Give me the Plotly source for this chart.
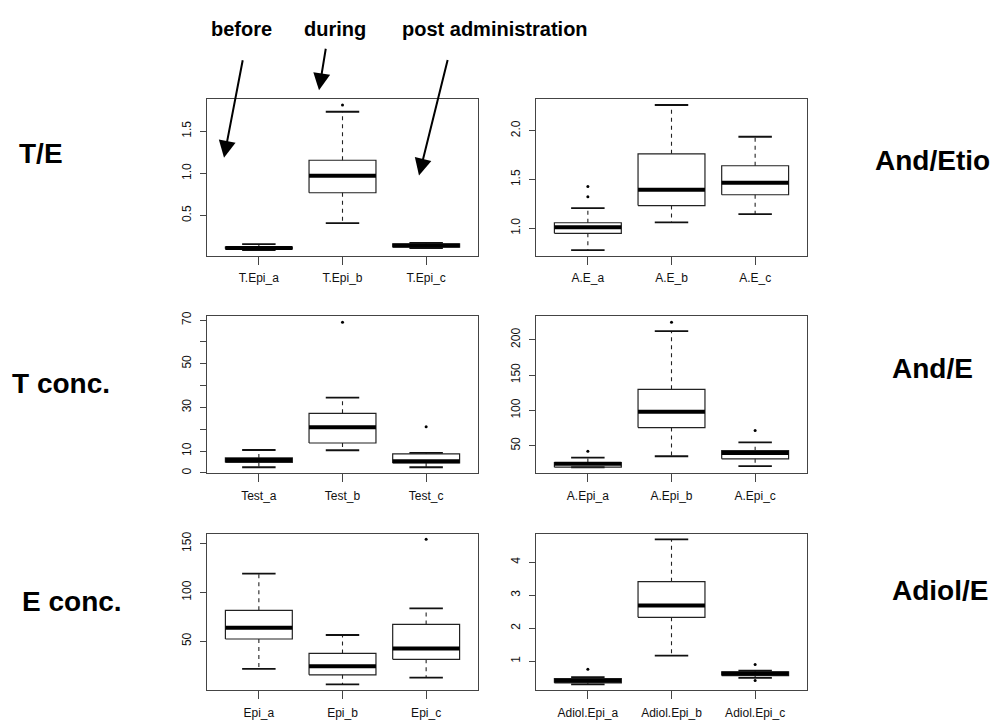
import plotly.graph_objects as go
from plotly.subplots import make_subplots

# ---------------- data ----------------
te_names = ["T.Epi_a", "T.Epi_b", "T.Epi_c"]
te_low = [0.09, 0.41, 0.115]
te_q1 = [0.105, 0.77, 0.125]
te_med = [0.115, 0.97, 0.145]
te_q3 = [0.125, 1.155, 0.165]
te_high = [0.16, 1.73, 0.175]
te_out = [[], [1.81], []]

ae_names = ["A.E_a", "A.E_b", "A.E_c"]
ae_low = [0.777, 1.061, 1.145]
ae_q1 = [0.949, 1.233, 1.344]
ae_med = [1.01, 1.395, 1.466]
ae_q3 = [1.057, 1.763, 1.641]
ae_high = [1.206, 2.263, 1.938]
ae_out = [[1.324, 1.428], [], []]

t_names = ["Test_a", "Test_b", "Test_c"]
t_low = [2.6, 10.4, 2.6]
t_q1 = [4.8, 13.7, 4.6]
t_med = [5.9, 20.9, 5.3]
t_q3 = [6.9, 27.3, 8.7]
t_high = [10.5, 34.5, 9.2]
t_out = [[], [69.0], [21.1]]

ane_names = ["A.Epi_a", "A.Epi_b", "A.Epi_c"]
ane_low = [19.5, 35.1, 21.1]
ane_q1 = [19.7, 75.6, 31.4]
ane_med = [24.4, 97.9, 39.8]
ane_q3 = [26.2, 129.7, 43.0]
ane_high = [33.2, 212.0, 54.6]
ane_out = [[42.0], [224.7], [71.4]]

e_names = ["Epi_a", "Epi_b", "Epi_c"]
e_low = [21.6, 5.7, 12.8]
e_q1 = [52.3, 15.6, 31.5]
e_med = [63.9, 24.4, 42.6]
e_q3 = [81.7, 37.5, 67.2]
e_high = [119.2, 56.4, 83.7]
e_out = [[], [], [154.4]]

ad_names = ["Adiol.Epi_a", "Adiol.Epi_b", "Adiol.Epi_c"]
ad_low = [0.30, 1.17, 0.50]
ad_q1 = [0.35, 2.33, 0.57]
ad_med = [0.41, 2.69, 0.63]
ad_q3 = [0.48, 3.41, 0.68]
ad_high = [0.52, 4.69, 0.72]
ad_out = [[0.76], [], [0.90, 0.42]]

te_ticks = [0.5, 1.0, 1.5]
te_ticktext = ["0.5", "1.0", "1.5"]
ae_ticks = [1.0, 1.5, 2.0]
ae_ticktext = ["1.0", "1.5", "2.0"]
t_ticks = [0, 10, 20, 30, 40, 50, 60, 70]
t_ticktext = ["0", "10", "", "30", "", "50", "", "70"]
ane_ticks = [50, 100, 150, 200]
ane_ticktext = ["50", "100", "150", "200"]
e_ticks = [50, 100, 150]
e_ticktext = ["50", "100", "150"]
ad_ticks = [1, 2, 3, 4]
ad_ticktext = ["1", "2", "3", "4"]

row_labels_left = ["T/E", "T conc.", "E conc."]
row_labels_right = ["And/Etio", "And/E", "Adiol/E"]
phase_labels = ["before", "during", "post administration"]

panels = [
    (1, 1, te_names, te_low, te_q1, te_med, te_q3, te_high, te_out, te_ticks, te_ticktext),
    (1, 2, ae_names, ae_low, ae_q1, ae_med, ae_q3, ae_high, ae_out, ae_ticks, ae_ticktext),
    (2, 1, t_names, t_low, t_q1, t_med, t_q3, t_high, t_out, t_ticks, t_ticktext),
    (2, 2, ane_names, ane_low, ane_q1, ane_med, ane_q3, ane_high, ane_out, ane_ticks, ane_ticktext),
    (3, 1, e_names, e_low, e_q1, e_med, e_q3, e_high, e_out, e_ticks, e_ticktext),
    (3, 2, ad_names, ad_low, ad_q1, ad_med, ad_q3, ad_high, ad_out, ad_ticks, ad_ticktext),
]

W, H = 994, 722
FONT = "Liberation Sans, Arial, Helvetica, sans-serif"
BOXW = 0.4   # half box width (R boxwex 0.8)
CAPW = 0.2   # half staple width

fig = make_subplots(rows=3, cols=2)

col_px = {1: (207, 478), 2: (536, 807)}
row_px = {1: (95, 253), 2: (314, 472), 3: (533, 691)}

for (r, c, names, low, q1, med, q3, high, outs, ticks, ticktext) in panels:
    xs = [1, 2, 3]
    bx, by, wx, wy, cx, cy, mx, my, ox, oy = [], [], [], [], [], [], [], [], [], []
    for i, x in enumerate(xs):
        bx += [x - BOXW, x + BOXW, x + BOXW, x - BOXW, x - BOXW, None]
        by += [q1[i], q1[i], q3[i], q3[i], q1[i], None]
        wx += [x, x, None, x, x, None]
        wy += [q3[i], high[i], None, q1[i], low[i], None]
        cx += [x - CAPW, x + CAPW, None, x - CAPW, x + CAPW, None]
        cy += [high[i], high[i], None, low[i], low[i], None]
        mx += [x - BOXW, x + BOXW, None]
        my += [med[i], med[i], None]
        for v in outs[i]:
            ox.append(x)
            oy.append(v)
    common = dict(showlegend=False, hoverinfo="skip")
    fig.add_trace(go.Scatter(x=wx, y=wy, mode="lines",
                             line=dict(color="#222", width=1.1, dash="4px,4px"), **common), row=r, col=c)
    fig.add_trace(go.Scatter(x=cx, y=cy, mode="lines",
                             line=dict(color="#111", width=1.8), **common), row=r, col=c)
    fig.add_trace(go.Scatter(x=bx, y=by, mode="lines", fill="none",
                             line=dict(color="#222", width=1.2), **common), row=r, col=c)
    fig.add_trace(go.Scatter(x=mx, y=my, mode="lines",
                             line=dict(color="#000", width=4), **common), row=r, col=c)
    fig.add_trace(go.Scatter(x=ox, y=oy, mode="markers",
                             marker=dict(color="#000", size=3), **common), row=r, col=c)

    allv = low + high + [v for o in outs for v in o]
    lo, hi = min(allv), max(allv)
    pad = 0.04 * (hi - lo)

    x0, x1 = col_px[c]
    y0, y1 = row_px[r]
    fig.update_xaxes(row=r, col=c, domain=[x0 / W, x1 / W], range=[0.38, 3.62],
                     tickvals=xs, ticktext=names, ticks="outside", ticklen=8,
                     tickcolor="#444", showline=True, mirror=True, linecolor="#444",
                     linewidth=1.2, showgrid=False, zeroline=False,
                     tickfont=dict(family=FONT, size=12, color="#111"),
                     ticklabelstandoff=3)
    fig.update_yaxes(row=r, col=c, domain=[1 - y1 / H, 1 - y0 / H], range=[lo - pad, hi + pad],
                     tickvals=ticks, ticktext=ticktext, tickangle=-90, ticks="outside",
                     ticklen=6, tickcolor="#444", showline=True, mirror=True,
                     linecolor="#444", linewidth=1.2, showgrid=False, zeroline=False,
                     tickfont=dict(family=FONT, size=12, color="#111"),
                     ticklabelstandoff=4)

annotations = []
left_pos = [(17, 150), (10, 382), (20, 602)]
for txt, (px, py) in zip(row_labels_left, left_pos):
    annotations.append(dict(text="<b>%s</b>" % txt, x=px / W, y=1 - py / H, xref="paper", yref="paper",
                            xanchor="left", yanchor="middle", showarrow=False,
                            font=dict(family=FONT, size=28, color="#000")))
right_pos = [(873, 157), (890, 367), (890, 590)]
for txt, (px, py) in zip(row_labels_right, right_pos):
    annotations.append(dict(text="<b>%s</b>" % txt, x=px / W, y=1 - py / H, xref="paper", yref="paper",
                            xanchor="left", yanchor="middle", showarrow=False,
                            font=dict(family=FONT, size=28, color="#000")))

phase_pos = [(241, 24), (335, 24), (495, 24)]
for txt, (px, py) in zip(phase_labels, phase_pos):
    annotations.append(dict(text="<b>%s</b>" % txt, x=px / W, y=1 - py / H, xref="paper", yref="paper",
                            xanchor="center", yanchor="middle", showarrow=False,
                            font=dict(family=FONT, size=20, color="#000")))

# arrows: tip (x, y) and tail offset (ax, ay) in pixels
arrows = [((224, 154), (19, -99)), ((319, 86), (7, -43)), ((419, 172), (29, -117))]
for (tx, ty), (ax, ay) in arrows:
    annotations.append(dict(text="", x=tx / W, y=1 - ty / H, xref="paper", yref="paper",
                            ax=ax, ay=ay, showarrow=True, arrowhead=2, arrowsize=1.7,
                            arrowwidth=2, arrowcolor="#000", standoff=0, startstandoff=0))

fig.update_layout(width=W, height=H, margin=dict(l=0, r=0, t=0, b=0),
                  paper_bgcolor="white", plot_bgcolor="white",
                  annotations=annotations, showlegend=False,
                  font=dict(family=FONT, color="#000"))

fig.write_html("out.html", config={"displayModeBar": False},
               post_script="document.body.style.margin='0px';document.body.style.overflow='hidden';")
